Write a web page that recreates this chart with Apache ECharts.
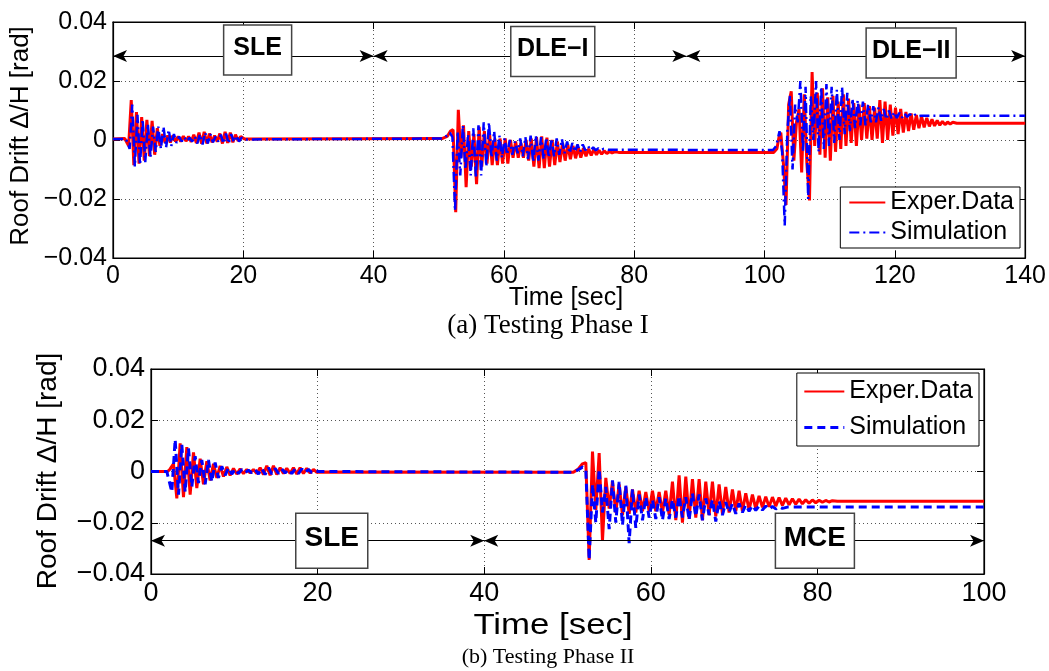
<!DOCTYPE html>
<html><head><meta charset="utf-8">
<script src="https://cdn.jsdelivr.net/npm/echarts@6/dist/echarts.min.js"></script>
<style>html,body{margin:0;padding:0;background:#fff}#c{width:1049px;height:671px}</style>
</head><body><div id="c"></div>
<script>
// ---------------- DATA ----------------
// sampling step (s) of the oscillatory segments (half-period of the response)
const STEP = 0.4;
const X_TICKS_1 = [0, 20, 40, 60, 80, 100, 120, 140];
const X_TICKS_2 = [0, 20, 40, 60, 80, 100];
const Y_TICKS = [-0.04, -0.02, 0, 0.02, 0.04];

// Phase I - Experimental: quiet parts [t, drift]
const P1_EXP_KEYS = [[0, 0.0003], [1.8, 0.0005], [2.1, 0.0004], [20.2, 0.0003], [50.5, 0.0005], [51.3, 0.0012], [51.8, 0.003],
  [77.6, -0.0042], [101.4, -0.0042], [101.9, -0.003], [102.2, 0.0008], [129.5, 0.0057], [140, 0.0057]];
const P1_EXP_SLE_T0 = 2.4;
const P1_EXP_SLE = [-0.002, 0.0135, -0.0085, 0.0095, -0.008, 0.0078, -0.007, 0.0068, -0.0055, 0.0065, -0.005, 0.004, -0.002, 0.002,
  -0.001, 0.0015, -0.0008, 0.0015, -0.0005, 0.0012, -0.0005, 0.0013, -0.0004, 0.0012, -0.0006, 0.0018, -0.001, 0.0025, -0.0012,
  0.0028, -0.0012, 0.0022, -0.0008, 0.0015, -0.0006, 0.0022, -0.0012, 0.0028, -0.001, 0.0025, -0.0008, 0.0018, -0.0003, 0.0012];
const P1_EXP_DLE1_T0 = 52.2;
const P1_EXP_DLE1 = [0.0035, -0.0245, 0.0102, -0.006, 0.005, -0.016, 0.003, -0.009, 0.002, -0.015, 0.0045, -0.009, 0.003, -0.008,
  0.002, -0.0085, 0.0005, -0.0085, 0.0005, -0.008, 0.0005, -0.008, 0.0, -0.006, -0.0005, -0.006, -0.001, -0.006, 0.0, -0.007,
  0.0005, -0.009, 0.001, -0.0095, 0.0012, -0.0095, 0.0008, -0.009, 0.0, -0.0085, -0.0005, -0.0075, -0.001, -0.007, -0.0015,
  -0.0065, -0.002, -0.0062, -0.0025, -0.006, -0.0028, -0.0055, -0.003, -0.0052, -0.0032, -0.005, -0.0035, -0.0048, -0.0037,
  -0.0046, -0.0039, -0.0044, -0.004];
const P1_EXP_DLE2_T0 = 102.5;
const P1_EXP_DLE2 = [0.0025, -0.008, -0.022, 0.012, 0.0165, -0.007, 0.006, 0.0105, -0.011, 0.0155, -0.008, -0.0205, 0.023, -0.002,
  0.016, -0.005, 0.0175, -0.006, 0.0145, -0.007, 0.015, -0.004, 0.013, -0.003, 0.0155, -0.002, 0.014, -0.001, 0.0125, -0.002,
  0.012, 0.0, 0.0125, 0.0005, 0.0115, 0.0, 0.011, 0.0005, 0.0135, -0.001, 0.013, 0.0, 0.012, 0.0015, 0.011, 0.002, 0.0105,
  0.0025, 0.0095, 0.003, 0.009, 0.0035, 0.0085, 0.004, 0.008, 0.0043, 0.0075, 0.0046, 0.007, 0.0048, 0.0066, 0.005, 0.0063,
  0.0052, 0.0061, 0.0054, 0.006];

// Phase I - Simulation
const P1_SIM_KEYS = [[0, 0.0003], [2.0, 0.0004], [20.2, 0.0002], [50.5, 0.0005], [51.3, 0.0015], [51.7, 0.0025],
  [76.0, -0.0033], [101.3, -0.0034], [101.8, -0.002], [102.3, 0.003], [124.0, 0.0082], [140, 0.0082]];
const P1_SIM_SLE_T0 = 2.55;
const P1_SIM_SLE = [-0.003, 0.012, -0.009, 0.0085, -0.0085, 0.007, -0.0075, 0.0055, -0.006, 0.0045, -0.004, 0.0045, -0.003,
  0.0045, -0.0025, 0.0035, -0.002, 0.002, -0.001, 0.0012, -0.0005, 0.001, -0.0005, 0.0008, -0.0005, 0.0012, -0.0012, 0.002,
  -0.0015, 0.0025, -0.0012, 0.002, -0.0008, 0.0012, -0.0005, 0.0018, -0.0012, 0.0022, -0.0012, 0.002, -0.0008, 0.0015, -0.0005,
  0.0008];
const P1_SIM_DLE1_T0 = 52.1;
const P1_SIM_DLE1 = [0.001, -0.024, 0.003, -0.012, 0.005, -0.01, 0.002, -0.012, 0.004, -0.013, 0.005, -0.012, 0.006, -0.009,
  0.006, -0.006, 0.003, -0.007, 0.0015, -0.006, 0.0005, -0.005, 0.0, -0.005, -0.0005, -0.0045, 0.0005, -0.0055, 0.001, -0.0065,
  0.0015, -0.0075, 0.0015, -0.007, 0.001, -0.0065, 0.0008, -0.006, 0.0005, -0.0055, 0.0005, -0.005, 0.0003, -0.0045, -0.0005,
  -0.0045, -0.001, -0.004, -0.0015, -0.004, -0.0015, -0.0035, -0.002, -0.0035, -0.0025, -0.0035, -0.0028, -0.0034, -0.003];
const P1_SIM_DLE2_T0 = 102.7;
const P1_SIM_DLE2 = [-0.004, -0.029, 0.003, 0.015, -0.01, 0.012, 0.006, 0.02, -0.004, 0.018, -0.02, 0.015, 0.0, 0.02, -0.004,
  0.018, -0.003, 0.019, -0.002, 0.018, -0.001, 0.017, 0.0, 0.018, 0.002, 0.016, 0.003, 0.014, 0.004, 0.0135, 0.005, 0.013, 0.005,
  0.012, 0.006, 0.0115, 0.006, 0.011, 0.0065, 0.0105, 0.007, 0.010, 0.0072, 0.0095, 0.0075, 0.0092, 0.0076, 0.009, 0.0078,
  0.0088, 0.0079, 0.0086, 0.008];

// Phase II - Experimental
const P2_EXP_KEYS = [[0, 0.0], [2.0, 0.0], [20.5, -0.0002], [50.7, -0.0003], [51.3, 0.001], [51.8, 0.003], [52.2, 0.0035],
  [82.4, -0.0116], [100, -0.0116]];
const P2_EXP_SLE_T0 = 2.3;
const P2_EXP_SLE = [0.001, 0.003, -0.0105, 0.011, -0.010, 0.0095, -0.009, 0.0075, -0.0065, 0.005, -0.005, 0.004, -0.0035, 0.003,
  -0.0025, 0.0022, -0.002, 0.0018, -0.0015, 0.0012, -0.001, 0.001, -0.0008, 0.0008, -0.0006, 0.0008, -0.0008, 0.0015, -0.0012,
  0.0022, -0.0015, 0.0022, -0.0012, 0.0015, -0.0008, 0.0012, -0.0008, 0.0015, -0.001, 0.0015, -0.0008, 0.0012, -0.0006, 0.0008,
  -0.0003];
const P2_EXP_MCE_T0 = 52.6;
const P2_EXP_MCE = [-0.0345, 0.0078, -0.015, 0.0072, -0.027, -0.0025, -0.0145, -0.004, -0.016, -0.005, -0.017, -0.006, -0.0165,
  -0.007, -0.016, -0.0075, -0.0155, -0.008, -0.0155, -0.0075, -0.0155, -0.008, -0.016, -0.0075, -0.017, -0.004, -0.019, -0.0015,
  -0.02, -0.002, -0.0185, -0.003, -0.018, -0.003, -0.019, -0.004, -0.017, -0.004, -0.0175, -0.005, -0.0165, -0.006, -0.016,
  -0.007, -0.0155, -0.0075, -0.0155, -0.0085, -0.015, -0.009, -0.0145, -0.0095, -0.014, -0.0098, -0.0138, -0.01, -0.0135,
  -0.0102, -0.0132, -0.0104, -0.013, -0.0106, -0.0128, -0.0108, -0.0126, -0.011, -0.0124, -0.0111, -0.0122, -0.0112, -0.012,
  -0.0113, -0.0119, -0.0114];

// Phase II - Simulation
const P2_SIM_KEYS = [[0, 0.0], [1.9, 0.0], [20.1, 0.0], [50.7, -0.0003], [51.2, 0.0005], [51.8, 0.0017], [52.2, 0.001],
  [76.4, -0.0139], [100, -0.0139]];
const P2_SIM_SLE_T0 = 2.1;
const P2_SIM_SLE = [0.0005, -0.008, 0.0125, -0.009, 0.0105, -0.008, 0.009, -0.006, 0.006, -0.0045, 0.0045, -0.005, 0.0045, -0.004,
  0.0035, -0.0025, 0.002, -0.0015, 0.0015, -0.001, 0.001, -0.0008, 0.0008, -0.0005, 0.0005, -0.0005, 0.0008, -0.001, 0.0012,
  -0.0012, 0.0015, -0.001, 0.0012, -0.0008, 0.001, -0.0006, 0.0008, -0.0008, 0.001, -0.0008, 0.001, -0.0005, 0.0008, -0.0004,
  0.0003];
const P2_SIM_MCE_T0 = 52.6;
const P2_SIM_MCE = [-0.0345, -0.005, -0.02, 0.001, -0.016, -0.006, -0.0225, -0.0035, -0.02, -0.004, -0.021, -0.0055, -0.028,
  -0.007, -0.022, -0.009, -0.019, -0.01, -0.018, -0.011, -0.0185, -0.01, -0.019, -0.0105, -0.0185, -0.011, -0.018, -0.0095,
  -0.018, -0.01, -0.019, -0.0085, -0.0175, -0.009, -0.019, -0.0105, -0.017, -0.011, -0.0195, -0.0115, -0.017, -0.012, -0.016,
  -0.0125, -0.0165, -0.0125, -0.016, -0.013, -0.0155, -0.0132, -0.0152, -0.0134, -0.015, -0.0135, -0.0148, -0.0136, -0.0146,
  -0.0137, -0.0144];

// ---------------- BUILD ----------------
function build(keys, segs) {
  const pts = keys.map(p => p.slice());
  segs.forEach(([t0, vals]) => vals.forEach((v, i) => pts.push([Math.round((t0 + i * STEP) * 100) / 100, v])));
  pts.sort((a, b) => a[0] - b[0]);
  return pts;
}
const p1Exp = build(P1_EXP_KEYS, [[P1_EXP_SLE_T0, P1_EXP_SLE], [P1_EXP_DLE1_T0, P1_EXP_DLE1], [P1_EXP_DLE2_T0, P1_EXP_DLE2]]);
const p1Sim = build(P1_SIM_KEYS, [[P1_SIM_SLE_T0, P1_SIM_SLE], [P1_SIM_DLE1_T0, P1_SIM_DLE1], [P1_SIM_DLE2_T0, P1_SIM_DLE2]]);
const p2Exp = build(P2_EXP_KEYS, [[P2_EXP_SLE_T0, P2_EXP_SLE], [P2_EXP_MCE_T0, P2_EXP_MCE]]);
const p2Sim = build(P2_SIM_KEYS, [[P2_SIM_SLE_T0, P2_SIM_SLE], [P2_SIM_MCE_T0, P2_SIM_MCE]]);

const FONT = '"Liberation Sans", Arial, Helvetica, sans-serif';
const SERIF = '"Liberation Serif", "Times New Roman", serif';
const RED = '#ff0000', BLUE = '#0000ff';

function yFmt(v) {
  if (Math.abs(v) < 1e-9) return '0';
  return (v < 0 ? '\u2212' : '') + Math.abs(v).toFixed(2);
}
function xAxis(grid, ticks, fs, pos) {
  const main = pos === 'bottom';
  return {
    gridIndex: grid, type: 'value', position: pos, min: ticks[0], max: ticks[ticks.length - 1], interval: ticks[1] - ticks[0],
    axisLine: { show: true, onZero: false, lineStyle: { color: '#000', width: 1.2 } },
    axisTick: { show: true, inside: true, length: 7, lineStyle: { color: '#000' } },
    axisLabel: { show: main, fontSize: fs, color: '#000', fontFamily: FONT, margin: 6 },
    splitLine: { show: main, lineStyle: { type: [1, 3], color: '#555', width: 1 } }
  };
}
function yAxis(grid, fs, pos) {
  const main = pos === 'left';
  return {
    gridIndex: grid, type: 'value', position: pos, min: Y_TICKS[0], max: Y_TICKS[Y_TICKS.length - 1], interval: Y_TICKS[1] - Y_TICKS[0],
    axisLine: { show: true, onZero: false, lineStyle: { color: '#000', width: 1.2 } },
    axisTick: { show: true, inside: true, length: 7, lineStyle: { color: '#000' } },
    axisLabel: { show: main, fontSize: fs, color: '#000', fontFamily: FONT, margin: 6, formatter: yFmt },
    splitLine: { show: main, lineStyle: { type: [1, 3], color: '#555', width: 1 } }
  };
}
function arrowSeries(xi, yi, segs) {
  return {
    type: 'line', xAxisIndex: xi, yAxisIndex: yi, data: [], silent: true,
    markLine: {
      silent: true, symbol: ['arrow', 'arrow'], symbolSize: [9, 14], animation: false,
      label: { show: false }, lineStyle: { color: '#000', width: 1.2, type: 'solid' },
      data: segs.map(s => [{ coord: [s[0], s[2]] }, { coord: [s[1], s[2]] }])
    }
  };
}

const chart = echarts.init(document.getElementById('c'), null, { renderer: 'canvas' });
chart.setOption({
  animation: false,
  backgroundColor: '#fff',
  grid: [
    { left: 113, top: 22, width: 913, height: 236, show: true, borderColor: '#000', borderWidth: 1.2, backgroundColor: '#fff' },
    { left: 151, top: 369, width: 833, height: 205, show: true, borderColor: '#000', borderWidth: 1.2, backgroundColor: '#fff' }
  ],
  xAxis: [xAxis(0, X_TICKS_1, 25, 'bottom'), xAxis(0, X_TICKS_1, 25, 'top'), xAxis(1, X_TICKS_2, 27, 'bottom'), xAxis(1, X_TICKS_2, 27, 'top')],
  yAxis: [yAxis(0, 25, 'left'), yAxis(0, 25, 'right'), yAxis(1, 27, 'left'), yAxis(1, 27, 'right')],
  legend: [
    {
      data: [{ name: 'Exper.Data' }, { name: 'Simulation' }], orient: 'vertical', right: 29, top: 187,
      backgroundColor: '#fff', borderColor: '#000', borderWidth: 1, padding: [3, 6, 3, 8], itemGap: 5,
      itemWidth: 36, itemHeight: 14, itemStyle: { opacity: 0 },
      textStyle: { fontSize: 25, color: '#000', fontFamily: FONT }, selectedMode: false, z: 20
    },
    {
      data: [{ name: 'Exper.Data' }, { name: 'Simulation', lineStyle: { type: [8, 5], width: 3 } }], orient: 'vertical', right: 70, top: 373,
      backgroundColor: '#fff', borderColor: '#000', borderWidth: 1, padding: [6, 6, 6, 6], itemGap: 11,
      itemWidth: 40, itemHeight: 16, itemStyle: { opacity: 0 },
      textStyle: { fontSize: 25, color: '#000', fontFamily: FONT }, selectedMode: false, z: 20
    }
  ],
  series: [
    { name: 'Exper.Data', type: 'line', xAxisIndex: 0, yAxisIndex: 0, data: p1Exp, symbol: 'none', lineStyle: { color: RED, width: 3 }, itemStyle: { color: RED } },
    { name: 'Simulation', type: 'line', xAxisIndex: 0, yAxisIndex: 0, data: p1Sim, symbol: 'none', lineStyle: { color: BLUE, width: 2.5, type: [10, 4, 2, 4] }, itemStyle: { color: BLUE } },
    { name: 'Exper.Data', type: 'line', xAxisIndex: 2, yAxisIndex: 2, data: p2Exp, symbol: 'none', lineStyle: { color: RED, width: 3 }, itemStyle: { color: RED } },
    { name: 'Simulation', type: 'line', xAxisIndex: 2, yAxisIndex: 2, data: p2Sim, symbol: 'none', lineStyle: { color: BLUE, width: 3, type: [8, 5] }, itemStyle: { color: BLUE } },
    arrowSeries(0, 0, [[0, 40, 0.0285], [40, 88, 0.0285], [88, 140, 0.0285]]),
    arrowSeries(2, 2, [[0, 40, -0.027], [40, 100, -0.027]])
  ]
});

// ---------------- ANNOTATIONS ----------------
function box(gridIdx, label, tc, vc, w, h, fs) {
  const p = chart.convertToPixel({ gridIndex: gridIdx }, [tc, vc]);
  return [
    { type: 'rect', z: 50, shape: { x: p[0] - w / 2, y: p[1] - h / 2, width: w, height: h },
      style: { fill: '#fff', stroke: '#444', lineWidth: 1.5 } },
    { type: 'text', z: 51, x: p[0], y: p[1] - 2,
      style: { text: label, fontSize: fs, fontWeight: 'bold', fontFamily: FONT, fill: '#000', align: 'center', verticalAlign: 'middle' } }
  ];
}
function txt(x, y, s, fs, fam, rot, sx) {
  return { type: 'text', z: 50, x: x, y: y, rotation: rot || 0, scaleX: sx || 1,
    style: { text: s, fontSize: fs, fontFamily: fam, fill: '#000', align: 'center', verticalAlign: 'middle' } };
}
const g = [].concat(
  box(0, 'SLE', 22.2, 0.0305, 68, 50, 25),
  box(0, 'DLE\u2212I', 67.5, 0.0300, 84, 50, 25),
  box(0, 'DLE\u2212II', 122.5, 0.0295, 90, 50, 25),
  box(1, 'SLE', 21.7, -0.027, 72, 55, 28),
  box(1, 'MCE', 79.7, -0.027, 79, 55, 28),
  [
    txt(21, 136, 'Roof Drift \u0394/H [rad]', 26, FONT, Math.PI / 2),
    txt(48, 471, 'Roof Drift \u0394/H [rad]', 28, FONT, Math.PI / 2),
    txt(566, 298, 'Time [sec]', 25, FONT),
    txt(553, 626, 'Time [sec]', 29, FONT, 0, 1.2),
    txt(548, 326, '(a) Testing Phase I', 27, SERIF),
    txt(548, 657, '(b) Testing Phase II', 22, SERIF)
  ]
);
chart.setOption({ graphic: g });
</script>
</body></html>
